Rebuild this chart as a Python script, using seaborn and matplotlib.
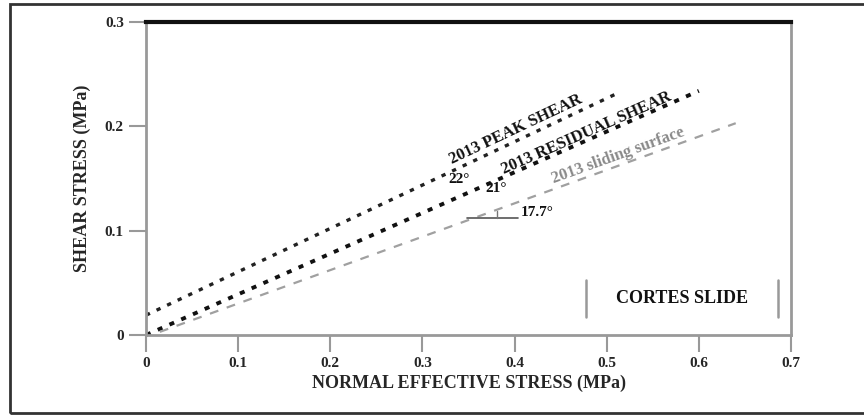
import numpy as np
import pandas as pd
import matplotlib
matplotlib.use("Agg")
import matplotlib.pyplot as plt
import seaborn as sns

# failure envelopes (normal effective stress vs shear stress, MPa)
peak_x = [0.0, 0.51]
peak_y = [0.019, 0.231]
residual_x = [0.0, 0.60]
residual_y = [0.0, 0.234]
sliding_x = [0.015, 0.64]
sliding_y = [0.003, 0.203]

line_names = ["2013 PEAK SHEAR", "2013 RESIDUAL SHEAR", "2013 sliding surface"]
angle_labels = ["22°", "21°", "17.7°"]
x_ticks = [0, 0.1, 0.2, 0.3, 0.4, 0.5, 0.6, 0.7]
x_tick_labels = ["0", "0.1", "0.2", "0.3", "0.4", "0.5", "0.6", "0.7"]
y_ticks = [0, 0.1, 0.2, 0.3]
y_tick_labels = ["0", "0.1", "0.2", "0.3"]
site_name = "CORTES SLIDE"


def main():
    sns.set_theme(style="white")
    plt.rcParams['font.family'] = ['Liberation Serif', 'DejaVu Serif']
    plt.rcParams['font.weight'] = 'bold'

    df = pd.concat([
        pd.DataFrame({"x": peak_x, "y": peak_y, "env": line_names[0]}),
        pd.DataFrame({"x": residual_x, "y": residual_y, "env": line_names[1]}),
        pd.DataFrame({"x": sliding_x, "y": sliding_y, "env": line_names[2]}),
    ])

    fig = plt.figure(figsize=(8.64, 4.17), dpi=100)
    ax = fig.add_axes([146 / 864, 1 - 335 / 417, 645 / 864, 313 / 417])

    styles = {
        line_names[0]: dict(color="#222222", dashes=(1.3, 2.2), lw=2.4),
        line_names[1]: dict(color="#111111", dashes=(1.3, 2.0), lw=2.8),
        line_names[2]: dict(color="#a0a0a0", dashes=(4, 4), lw=1.6),
    }
    for name in line_names:
        sub = df[df["env"] == name]
        st = styles[name]
        sns.lineplot(data=sub, x="x", y="y", ax=ax, color=st["color"],
                     linewidth=st["lw"], dashes=False, legend=False)
        ax.lines[-1].set_dashes(st["dashes"])

    ax.set_xlim(0, 0.7)
    ax.set_ylim(0, 0.3)

    # labels along the envelopes
    label_pos = [(0.405, 0.190, "#111111"), (0.482, 0.186, "#111111"), (0.515, 0.165, "#8a8a8a")]
    envs = [(peak_x, peak_y), (residual_x, residual_y), (sliding_x, sliding_y)]
    for (lx, ly, col), (xs, ys), name in zip(label_pos, envs, line_names):
        slope = (ys[1] - ys[0]) / (xs[1] - xs[0])
        ax.text(lx, ly, name, rotation=np.degrees(np.arctan(slope)),
                transform_rotates_text=True, rotation_mode='anchor',
                ha='center', va='bottom', fontsize=12, color=col,
                fontweight='bold')

    # friction angle annotations
    ax.text(0.340, 0.149, angle_labels[0], ha='center', va='center', fontsize=11, color="#111111")
    ax.text(0.380, 0.140, angle_labels[1], ha='center', va='center', fontsize=11, color="#111111")
    ax.text(0.424, 0.117, angle_labels[2], ha='center', va='center', fontsize=11, color="#111111")
    ax.plot([0.348, 0.404], [0.112, 0.112], color="#555555", lw=1.2)
    ax.plot([0.381, 0.381], [0.112, 0.119], color="#777777", lw=1.0)

    # site name box (vertical bars only)
    ax.text(0.582, 0.035, site_name, ha='center', va='center', fontsize=13,
            color="#111111", fontweight='bold')
    ax.plot([0.477, 0.477], [0.017, 0.053], color="#999999", lw=1.8)
    ax.plot([0.686, 0.686], [0.017, 0.053], color="#999999", lw=1.8)

    ax.set_xticks(x_ticks)
    ax.set_xticklabels(x_tick_labels)
    ax.set_yticks(y_ticks)
    ax.set_yticklabels(y_tick_labels)
    ax.tick_params(axis='both', direction='out', length=12, width=1.5,
                   color="#999999", labelsize=11, pad=4, bottom=True, left=True)
    for lab in ax.get_xticklabels() + ax.get_yticklabels():
        lab.set_fontweight('bold')

    ax.set_xlabel("NORMAL EFFECTIVE STRESS (MPa)", fontsize=13, fontweight='bold', labelpad=3)
    ax.set_ylabel("SHEAR STRESS (MPa)", fontsize=13, fontweight='bold', labelpad=10)

    for side in ["left", "bottom", "right"]:
        ax.spines[side].set_color("#999999")
        ax.spines[side].set_linewidth(2.0)
    ax.spines["top"].set_color("#111111")
    ax.spines["top"].set_linewidth(3.0)

    # outer frame of the figure
    fig.add_artist(plt.Rectangle((10 / 864, 4 / 417), 1.2, 409 / 417,
                                 transform=fig.transFigure, fill=False,
                                 edgecolor="#333333", lw=2.0, clip_on=False))

    fig.savefig("out.png", dpi=100)


if __name__ == '__main__':
    main()
